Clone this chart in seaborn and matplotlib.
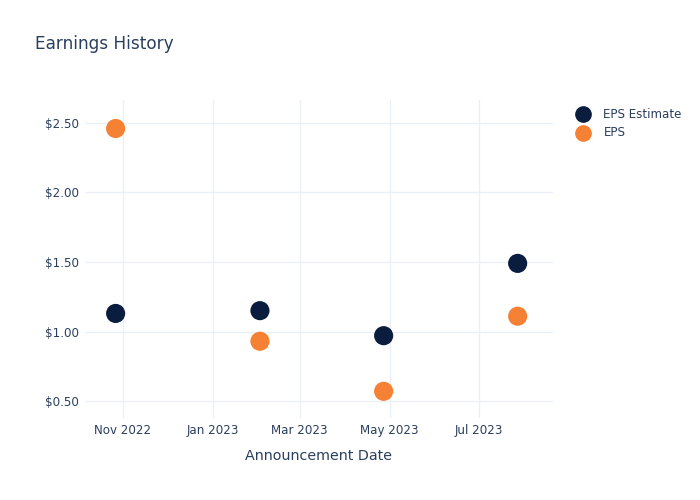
import pandas as pd
import matplotlib
matplotlib.use('Agg')
import matplotlib.pyplot as plt
import matplotlib.dates as mdates
import matplotlib.ticker as mticker
import seaborn as sns

dates = ['2022-10-27', '2023-02-02', '2023-04-27', '2023-07-27']
eps_estimate = [1.13, 1.15, 0.97, 1.49]
eps_actual = [2.46, 0.93, 0.57, 1.11]

df = pd.DataFrame({
    'date': pd.to_datetime(dates * 2),
    'value': eps_estimate + eps_actual,
    'series': ['EPS Estimate'] * 4 + ['EPS'] * 4,
})

sns.set_style('white')
plt.rcParams['font.family'] = ['DejaVu Sans']
text_col = '#2a3f5f'
grid_col = '#ebf0f8'

fig = plt.figure(figsize=(7, 5), dpi=100)
ax = fig.add_axes([0.121, 0.164, 0.669, 0.636])

sns.scatterplot(data=df, x='date', y='value', hue='series',
                palette={'EPS Estimate': '#0b1d3e', 'EPS': '#f58134'},
                s=190, edgecolor='none', ax=ax, zorder=3, legend=False)

ax.set_xlim(pd.Timestamp('2022-10-06'), pd.Timestamp('2023-08-20'))
ax.set_ylim(0.378, 2.665)
ax.xaxis.set_major_locator(mdates.MonthLocator(bymonth=[1, 3, 5, 7, 11]))
ax.xaxis.set_major_formatter(mdates.DateFormatter('%b %Y'))
ax.yaxis.set_major_locator(mticker.MultipleLocator(0.5))
ax.yaxis.set_major_formatter(mticker.FuncFormatter(lambda v, p: f'${v:.2f}'))

ax.grid(True, color=grid_col, linewidth=1)
ax.set_axisbelow(True)
for sp in ax.spines.values():
    sp.set_visible(False)
ax.tick_params(axis='both', length=0, labelsize=8.6, colors=text_col)
ax.tick_params(axis='x', pad=4)
ax.tick_params(axis='y', pad=4)

ax.set_xlabel('Announcement Date', fontsize=10.3, color=text_col, labelpad=9)
ax.set_ylabel('')
fig.text(0.05, 0.912, 'Earnings History', fontsize=12.2, color=text_col, va='center')

# legend
for label, col, yy in [('EPS Estimate', '#0b1d3e', 0.772), ('EPS', '#f58134', 0.734)]:
    fig.lines.append(plt.Line2D([0.833], [yy], transform=fig.transFigure,
                                marker='o', markersize=11, color=col, linestyle='none'))
    fig.text(0.862, yy, label, fontsize=8.6, color=text_col, va='center')

fig.savefig('out.png', dpi=100)
